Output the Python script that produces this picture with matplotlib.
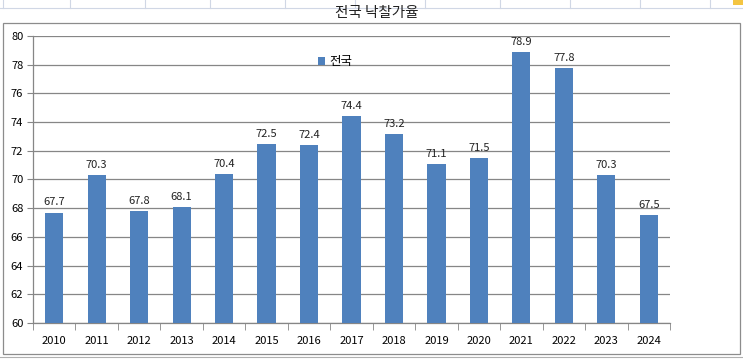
import matplotlib
matplotlib.use("Agg")
import matplotlib.pyplot as plt
from matplotlib.patches import Rectangle
from matplotlib.lines import Line2D

plt.rcParams['font.family'] = ['Noto Sans CJK KR', 'DejaVu Sans']

title = "전국 낙찰가율"
series_name = "전국"
years = ["2010", "2011", "2012", "2013", "2014", "2015", "2016", "2017",
         "2018", "2019", "2020", "2021", "2022", "2023", "2024"]
values = [67.7, 70.3, 67.8, 68.1, 70.4, 72.5, 72.4, 74.4, 73.2, 71.1,
          71.5, 78.9, 77.8, 70.3, 67.5]
yticks = [60, 62, 64, 66, 68, 70, 72, 74, 76, 78, 80]

W, H = 743, 360
fig = plt.figure(figsize=(W / 100, H / 100), dpi=100)
fig.patch.set_facecolor("white")

# Excel sheet grid hints
for xx in [3, 70, 145, 210, 285, 355, 425, 500, 570, 640, 710]:
    fig.add_artist(Line2D([xx / W, xx / W], [1 - 8 / H, 1], color="#d0d7e5", lw=0.8))
fig.add_artist(Line2D([0, 1], [1 - 8 / H, 1 - 8 / H], color="#d0d7e5", lw=0.8))
fig.add_artist(Line2D([0, 1], [1 - 357 / H, 1 - 357 / H], color="#b0b0b0", lw=0.8))
fig.add_artist(Rectangle((733 / W, 1 - 5 / H), 10 / W, 5 / H, color="#f4c542", lw=0))

# chart area border
fig.add_artist(Rectangle((3 / W, 1 - 354 / H), (740 - 3) / W, (354 - 23) / H,
                         fill=False, edgecolor="#8c8c8c", lw=0.9))

left, right, top, bottom = 33, 670, 36, 323
ax = fig.add_axes([left / W, 1 - bottom / H, (right - left) / W, (bottom - top) / H])
x = list(range(len(years)))
ax.bar(x, values, width=0.43, color="#4F81BD", zorder=3, label=series_name)
ax.set_ylim(60, 80)
ax.set_xlim(-0.5, len(years) - 0.5)
ax.set_yticks(yticks)
ax.set_yticklabels([str(v) for v in yticks], fontsize=8)
ax.set_xticks(x)
ax.set_xticklabels(years, fontsize=8)
ax.tick_params(axis="x", length=0, pad=9)
ax.tick_params(axis="y", length=4, color="#868686", pad=3)
# category boundary ticks
ax.set_xticks([i - 0.5 for i in range(len(years) + 1)], minor=True)
ax.tick_params(axis="x", which="minor", length=5, color="#868686")
ax.grid(axis="y", color="#868686", lw=0.9, zorder=0)
for s in ["top", "right"]:
    ax.spines[s].set_visible(False)
for s in ["left", "bottom"]:
    ax.spines[s].set_color("#868686")
    ax.spines[s].set_linewidth(0.9)
ax.set_facecolor("none")

for xi, v in zip(x, values):
    ax.text(xi, v + 0.35, f"{v:.1f}", ha="center", va="bottom", fontsize=8, color="#222222")

leg = ax.legend(loc="center", bbox_to_anchor=((335 - left) / (right - left), (bottom - 62) / (bottom - top)),
                frameon=False, fontsize=9, handlelength=0.6, handleheight=0.6,
                handletextpad=0.3, borderpad=0)

fig.text(377 / W, 1 - 13 / H, title, ha="center", va="center", fontsize=10.5, color="#222222")

fig.savefig("out.png", dpi=100)
